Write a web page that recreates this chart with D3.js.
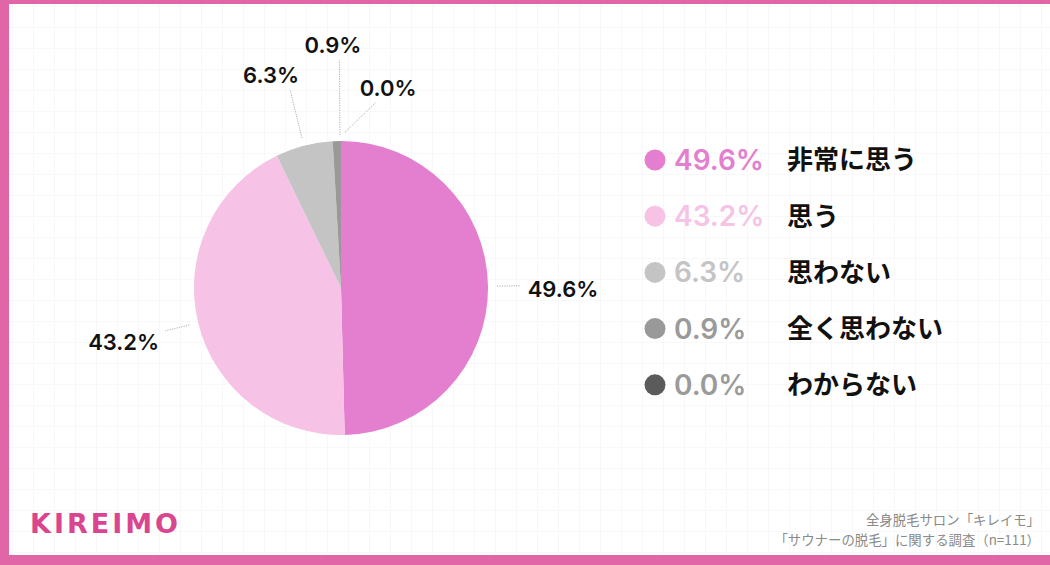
<!DOCTYPE html>
<html>
<head>
<meta charset="utf-8">
<script src="https://cdn.jsdelivr.net/npm/d3@7"></script>
<style>
  body { margin: 0; background: #fff; }
  svg { display: block; }
</style>
</head>
<body>
<script>
// Data
var categories = ["非常に思う", "思う", "思わない", "全く思わない", "わからない"];
var values = [49.6, 43.2, 6.3, 0.9, 0.0];
var sliceColors = ["#e47ecf", "#f6c3e7", "#c4c4c4", "#999999", "#5b5b5b"];
var legendTextColors = ["#e47ecf", "#f6c3e7", "#c4c4c4", "#9a9a9a", "#9a9a9a"];
var sourceLines = ["全身脱毛サロン「キレイモ」", "「サウナーの脱毛」に関する調査（n=111）"];

// label placement (degrees clockwise from top, radius in px)
var labelLayout = [
  { lineFrom: [89.3, 156], lineTo: [89.3, 179], text: [90.3, 222] },
  { lineFrom: [256.3, 156], lineTo: [256.3, 181], text: [256.0, 224] },
  { lineFrom: [345.4, 155], lineTo: [345.6, 204], text: [341.8, 224] },
  { lineFrom: [359.6, 153], lineTo: [359.6, 228], text: [358.1, 243] },
  { lineFrom: [1.5, 156], lineTo: [10.7, 189], text: [13.3, 205] }
];

var width = 1050, height = 565;
var cx = 341, cy = 288, radius = 147;

var svg = d3.select("body").append("svg")
    .attr("width", width)
    .attr("height", height);

svg.append("rect").attr("width", width).attr("height", height).attr("fill", "#fff");

// faint background grid
var grid = svg.append("g").attr("stroke", "#f8f8f8").attr("stroke-width", 1);
d3.range(12, width, 21).forEach(function(x) {
  grid.append("line").attr("x1", x + 0.5).attr("x2", x + 0.5).attr("y1", 4).attr("y2", 555);
});
d3.range(6, height, 21).forEach(function(y) {
  grid.append("line").attr("x1", 9).attr("x2", width).attr("y1", y + 0.5).attr("y2", y + 0.5);
});

// pink frame
svg.append("rect").attr("x", 0).attr("y", 0).attr("width", width).attr("height", 4).attr("fill", "#e066a8");
svg.append("rect").attr("x", 0).attr("y", 0).attr("width", 9).attr("height", height).attr("fill", "#e066a8");
svg.append("rect").attr("x", 0).attr("y", 555).attr("width", width).attr("height", 10).attr("fill", "#e066a8");

// Pie
var pie = d3.pie().sort(null).value(function(d) { return d; });
var arc = d3.arc().innerRadius(0).outerRadius(radius);
var arcs = pie(values);

var g = svg.append("g").attr("transform", "translate(" + cx + "," + cy + ")");

g.selectAll("path.slice")
  .data(arcs)
  .enter().append("path")
  .attr("class", "slice")
  .attr("d", arc)
  .attr("fill", function(d, i) { return sliceColors[i]; });

function polar(p) {
  var a = p[0] * Math.PI / 180;
  return [Math.sin(a) * p[1], -Math.cos(a) * p[1]];
}

// leader lines
g.selectAll("line.leader")
  .data(arcs)
  .enter().append("line")
  .attr("class", "leader")
  .attr("x1", function(d, i) { return polar(labelLayout[i].lineFrom)[0]; })
  .attr("y1", function(d, i) { return polar(labelLayout[i].lineFrom)[1]; })
  .attr("x2", function(d, i) { return polar(labelLayout[i].lineTo)[0]; })
  .attr("y2", function(d, i) { return polar(labelLayout[i].lineTo)[1]; })
  .attr("stroke", "#9a9a9a")
  .attr("stroke-width", 0.8)
  .attr("stroke-dasharray", "1.2,1.2");

// slice labels
g.selectAll("text.label")
  .data(arcs)
  .enter().append("text")
  .attr("class", "label")
  .attr("x", function(d, i) { return polar(labelLayout[i].text)[0]; })
  .attr("y", function(d, i) { return polar(labelLayout[i].text)[1]; })
  .attr("dy", "0.36em")
  .attr("text-anchor", "middle")
  .style("font-family", "Inter, 'Liberation Sans', sans-serif")
  .style("font-weight", 600)
  .style("font-size", "22px")
  .style("fill", "#111")
  .text(function(d) { return d.data.toFixed(1) + "%"; });

// Legend
var legend = svg.append("g").attr("transform", "translate(655,160)");
var row = legend.selectAll("g.row")
  .data(categories)
  .enter().append("g")
  .attr("class", "row")
  .attr("transform", function(d, i) { return "translate(0," + (i * 56.2) + ")"; });

row.append("circle")
  .attr("r", 10.5)
  .attr("fill", function(d, i) { return sliceColors[i]; });

row.append("text")
  .attr("x", 19)
  .attr("dy", "0.36em")
  .style("font-family", "Inter, 'Liberation Sans', sans-serif")
  .style("font-weight", 600)
  .style("font-size", "28px")
  .style("fill", function(d, i) { return legendTextColors[i]; })
  .text(function(d, i) { return values[i].toFixed(1) + "%"; });

row.append("text")
  .attr("x", 132)
  .attr("dy", "0.36em")
  .style("font-family", "'Noto Sans CJK JP', sans-serif")
  .style("font-weight", 700)
  .style("font-size", "26px")
  .style("fill", "#111")
  .text(function(d) { return d; });

// Logo
svg.append("text")
  .attr("x", 30)
  .attr("y", 533)
  .style("font-family", "'DejaVu Sans', sans-serif")
  .style("font-weight", 700)
  .style("font-size", "27px")
  .style("letter-spacing", "3px")
  .style("fill", "#d9468f")
  .text("KIREIMO");

// Source
svg.selectAll("text.source")
  .data(sourceLines)
  .enter().append("text")
  .attr("class", "source")
  .attr("x", 1040)
  .attr("y", function(d, i) { return 525 + i * 20; })
  .attr("text-anchor", "end")
  .style("font-family", "'Noto Sans CJK JP', sans-serif")
  .style("font-size", "13.4px")
  .style("fill", "#8a8a8a")
  .text(function(d) { return d; });
</script>
</body>
</html>
